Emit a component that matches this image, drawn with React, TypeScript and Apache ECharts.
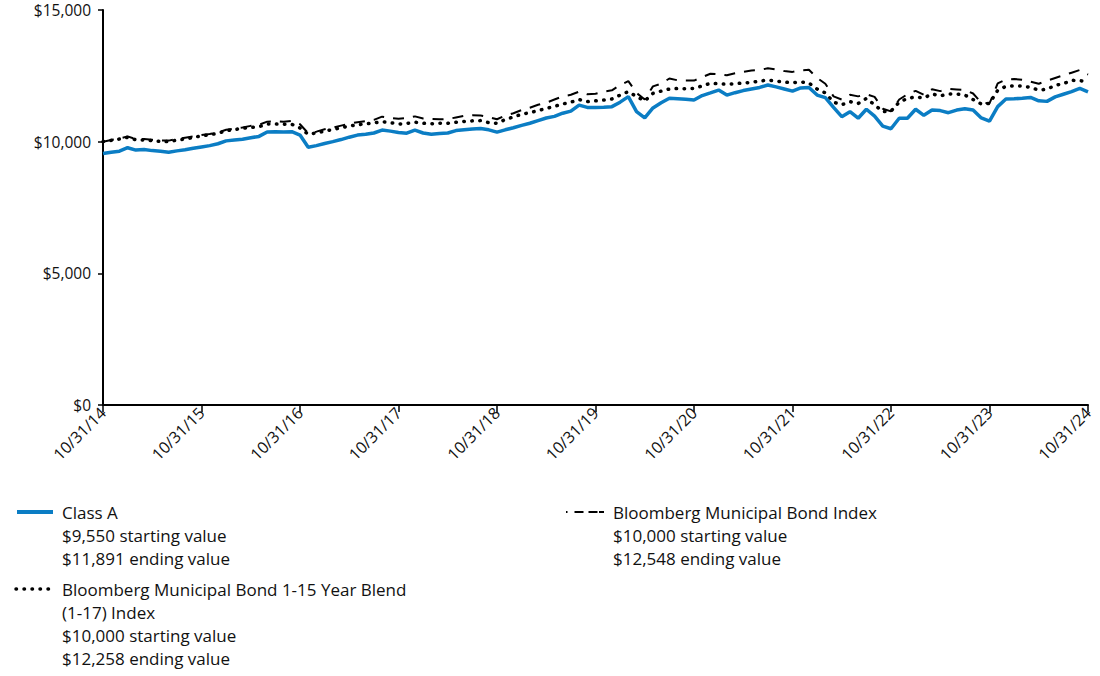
import React, { useEffect, useRef } from "react";
import * as echarts from "echarts";

const monthEnds: string[] = (() => {
  const out: string[] = [];
  for (let k = 0; k <= 120; k++) {
    const m = 9 + k; // Oct 2014 = month index 9
    const y = 2014 + Math.floor(m / 12);
    const mo = m % 12;
    const last = new Date(Date.UTC(y, mo + 1, 0)).getUTCDate();
    out.push(`${mo + 1}/${last}/${String(y).slice(2)}`);
  }
  return out;
})();

const classA = [
  9550, 9600, 9640, 9770, 9680, 9700, 9660, 9640, 9600, 9650, 9690, 9750,
  9800, 9850, 9920, 10030, 10060, 10090, 10150, 10200, 10370, 10380, 10370, 10380,
  10250, 9790, 9850, 9930, 10000, 10080, 10170, 10250, 10280, 10330, 10440, 10400,
  10350, 10320, 10440, 10330, 10280, 10310, 10330, 10420, 10450, 10480, 10500, 10450,
  10360, 10450, 10530, 10620, 10700, 10800, 10900, 10960, 11080, 11160, 11390, 11300,
  11300, 11310, 11330, 11500, 11710, 11140, 10900, 11280, 11480, 11650, 11630, 11610,
  11580, 11750, 11850, 11960, 11770, 11860, 11940, 12000, 12060, 12150, 12080, 12000,
  11920, 12040, 12060, 11770, 11670, 11300, 10950, 11140, 10890, 11230, 10970, 10590,
  10490, 10890, 10890, 11230, 11000, 11200, 11180, 11100, 11200, 11250, 11200, 10900,
  10780, 11330, 11620, 11630, 11650, 11680, 11550, 11530, 11700, 11800, 11900, 12020,
  11891,
];

const blend1to15 = [
  10000, 10050, 10100, 10165, 10070, 10060, 10040, 10010, 10000, 10060, 10100, 10160,
  10220, 10260, 10320, 10415, 10460, 10505, 10540, 10570, 10670, 10670, 10660, 10660,
  10520, 10280, 10330, 10400, 10460, 10530, 10590, 10640, 10680, 10710, 10760, 10720,
  10670, 10690, 10740, 10700, 10680, 10700, 10700, 10740, 10770, 10790, 10800, 10720,
  10700, 10840, 10940, 11040, 11100, 11180, 11260, 11340, 11430, 11500, 11600, 11520,
  11550, 11580, 11620, 11770, 11900, 11710, 11550, 11835, 11920, 12000, 12020, 12010,
  12020, 12120, 12215, 12200, 12180, 12200, 12230, 12250, 12300, 12340, 12300, 12260,
  12240, 12270, 12230, 12000, 11850, 11500, 11400, 11520, 11450, 11640, 11400, 11140,
  11160, 11500, 11640, 11700, 11660, 11810, 11740, 11810, 11810, 11770, 11600, 11430,
  11450, 11950, 12100, 12120, 12110, 12060, 11960, 11990, 12140, 12200, 12330, 12320,
  12258,
];

const muniIndex = [
  10000, 10060, 10120, 10200, 10100, 10100, 10070, 10040, 10040, 10100, 10150, 10200,
  10250, 10290, 10350, 10450, 10500, 10540, 10600, 10640, 10760, 10780, 10760, 10790,
  10660, 10320, 10380, 10470, 10530, 10610, 10680, 10740, 10780, 10830, 10950, 10900,
  10870, 10900, 10960, 10880, 10860, 10850, 10860, 10920, 10980, 11000, 10990, 10930,
  10850, 10990, 11080, 11200, 11290, 11400, 11480, 11600, 11720, 11780, 11900, 11800,
  11820, 11900, 11950, 12150, 12300, 11850, 11600, 12100, 12200, 12400, 12330, 12320,
  12320, 12450, 12580, 12560, 12520, 12600, 12650, 12700, 12720, 12790, 12740, 12680,
  12650, 12710, 12730, 12420, 12200, 11720, 11600, 11780, 11720, 11800, 11700, 11250,
  11150, 11600, 11800, 11930, 11780, 11990, 11920, 12000, 11980, 11960, 11830, 11480,
  11450, 12210, 12360, 12380, 12350, 12280, 12200, 12310, 12420, 12520, 12620, 12720,
  12548,
];

const yTicks = { min: 0, max: 15000, interval: 5000 };

const legendClassA = ["Class A", "$9,550 starting value", "$11,891 ending value"];
const legendBlend = [
  "Bloomberg Municipal Bond 1-15 Year Blend",
  "(1-17) Index",
  "$10,000 starting value",
  "$12,258 ending value",
];
const legendMuni = ["Bloomberg Municipal Bond Index", "$10,000 starting value", "$12,548 ending value"];

const BLUE = "#0b7dc4";
const FONT = "'Open Sans', 'Noto Sans', sans-serif";
const LINE_H = 23.2;

function textLines(lines: string[], x: number, firstCenterY: number) {
  return lines.map((t, i) => ({
    type: "text",
    x,
    y: firstCenterY + i * LINE_H,
    style: {
      text: t,
      fill: "#111",
      font: `17px ${FONT}`,
      verticalAlign: "middle",
      align: "left",
    },
  }));
}

export default function App() {
  const ref = useRef<HTMLDivElement>(null);
  useEffect(() => {
    if (!ref.current) return;
    const chart = echarts.init(ref.current, null, { renderer: "svg" });
    const fmt = (v: number) => "$" + v.toLocaleString("en-US");
    chart.setOption({
      animation: false,
      grid: { left: 103, right: 12, top: 10, bottom: 271, containLabel: false },
      xAxis: {
        type: "category",
        data: monthEnds,
        boundaryGap: false,
        axisLine: { lineStyle: { color: "#000", width: 2 } },
        axisTick: { interval: 11, length: 7, lineStyle: { color: "#000", width: 1.5 } },
        axisLabel: {
          interval: 11,
          rotate: 45,
          color: "#111",
          fontSize: 16,
          fontFamily: FONT,
          margin: 5,
        },
        splitLine: { show: false },
      },
      yAxis: {
        type: "value",
        min: yTicks.min,
        max: yTicks.max,
        interval: yTicks.interval,
        axisLine: { show: true, lineStyle: { color: "#000", width: 2 } },
        axisTick: { show: true, length: 5, lineStyle: { color: "#000", width: 1.5 } },
        axisLabel: { color: "#111", fontSize: 15.5, fontFamily: FONT, margin: 12, formatter: fmt },
        splitLine: { show: false },
      },
      series: [
        {
          name: "Bloomberg Municipal Bond Index",
          type: "line",
          data: muniIndex,
          showSymbol: false,
          lineStyle: { color: "#000", width: 2, type: [11, 9] },
          z: 2,
        },
        {
          name: "Bloomberg Municipal Bond 1-15 Year Blend (1-17) Index",
          type: "line",
          data: blend1to15,
          showSymbol: false,
          lineStyle: { color: "#000", width: 3.5, type: [0.5, 7.5], cap: "round" },
          z: 3,
        },
        {
          name: "Class A",
          type: "line",
          data: classA,
          showSymbol: false,
          lineStyle: { color: BLUE, width: 3.5 },
          z: 4,
        },
      ],
      graphic: [
        { type: "line", shape: { x1: 17, y1: 512, x2: 53, y2: 512 }, style: { stroke: BLUE, lineWidth: 4 } },
        ...textLines(legendClassA, 62, 512),
        {
          type: "line",
          shape: { x1: 16, y1: 589, x2: 54, y2: 589 },
          style: { stroke: "#000", lineWidth: 3.5, lineDash: [0.5, 7.5], lineCap: "round" },
        },
        ...textLines(legendBlend, 62, 589),
        {
          type: "line",
          shape: { x1: 566, y1: 512, x2: 604, y2: 512 },
          style: { stroke: "#000", lineWidth: 2, lineDash: [1.5, 7, 9, 5, 9], lineCap: "butt" },
        },
        ...textLines(legendMuni, 613, 512),
      ],
    });
    return () => chart.dispose();
  }, []);
  return (
    <div
      ref={ref}
      style={{ position: "fixed", left: 0, top: 0, width: 1100, height: 676, background: "#fff" }}
    />
  );
}
